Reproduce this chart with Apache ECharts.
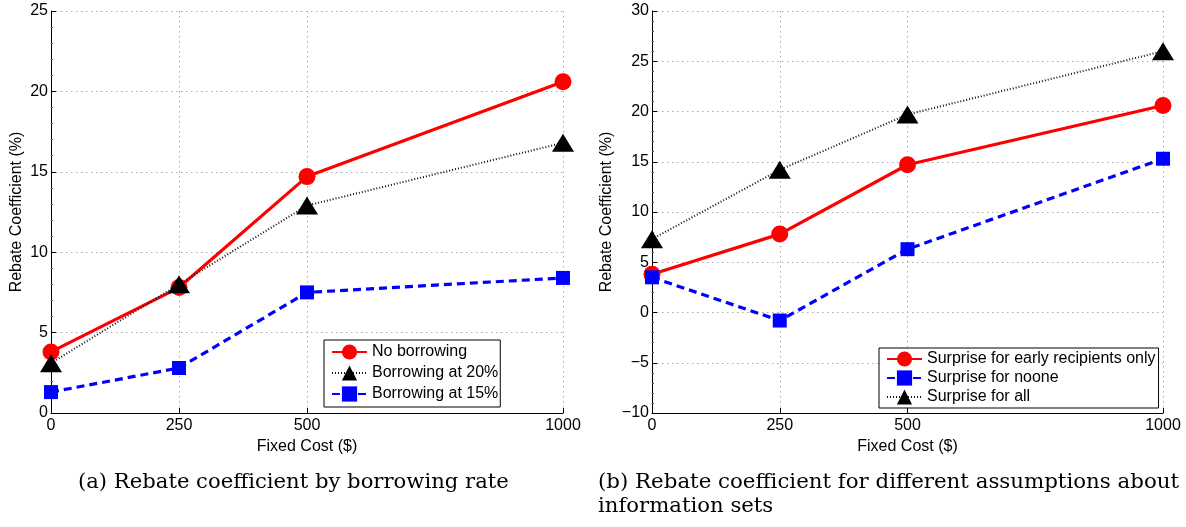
<!DOCTYPE html>
<html>
<head>
<meta charset="utf-8">
<script src="https://cdn.jsdelivr.net/npm/echarts@6/dist/echarts.min.js"></script>
<style>
html,body{margin:0;padding:0;background:#fff;}
#chart{width:1186px;height:527px;}
</style>
</head>
<body>
<div id="chart"></div>
<script>
// ---- data ----
const fixedCosts = [0, 250, 500, 1000];
const xTickValues = [0, 250, 500, 1000];

// panel (a)
const noBorrowing = [3.8, 7.8, 14.7, 20.6];
const borrowing20 = [3.1, 8.0, 12.9, 16.8];
const borrowing15 = [1.3, 2.8, 7.5, 8.4];

// panel (b)
const surpriseEarly = [3.8, 7.8, 14.7, 20.6];
const surpriseNoone = [3.5, -0.8, 6.3, 15.3];
const surpriseAll = [7.3, 14.2, 19.7, 26.0];

const xName = 'Fixed Cost ($)';
const yName = 'Rebate Coefficient (%)';
const captionA = '(a) Rebate coefficient by borrowing rate';
const captionB1 = '(b) Rebate coefficient for different assumptions about';
const captionB2 = 'information sets';

// ---- helpers ----
const pairs = (ys) => fixedCosts.map((x, i) => [x, ys[i]]);
const FONT = "'Liberation Sans', Arial, sans-serif";
const SERIF = "'DejaVu Serif', serif";
const gridLine = { show: true, lineStyle: { color: '#aaa', width: 1, type: [1.5, 3.5] } };

function xAxis(gi) {
  return {
    type: 'value', gridIndex: gi, min: 0, max: 1000,
    name: xName, nameLocation: 'middle', nameGap: 22,
    nameTextStyle: { fontFamily: FONT, fontSize: 16, color: '#000' },
    axisLine: { show: true, onZero: false, lineStyle: { color: '#000', width: 1 } },
    axisTick: { show: true, inside: true, length: 5, customValues: xTickValues, lineStyle: { color: '#000' } },
    axisLabel: { customValues: xTickValues, fontFamily: FONT, fontSize: 16, color: '#000', margin: 5,
      formatter: (v) => String(v) },
    splitLine: gridLine
  };
}
function yAxis(gi, min, max, gap) {
  return {
    type: 'value', gridIndex: gi, min: min, max: max, interval: 5,
    name: yName, nameLocation: 'middle', nameGap: gap,
    nameTextStyle: { fontFamily: FONT, fontSize: 16, color: '#000' },
    axisLine: { show: true, onZero: false, lineStyle: { color: '#000', width: 1 } },
    axisTick: { show: true, inside: true, length: 5, lineStyle: { color: '#000' } },
    minorTick: { show: true, splitNumber: 5, length: 2, lineStyle: { color: '#555' } },
    axisLabel: { fontFamily: FONT, fontSize: 16, color: '#000', margin: 3,
      formatter: (v) => String(v).replace('-', '\u2212') },
    splitLine: gridLine
  };
}

const redStyle = { type: 'line', symbol: 'circle', symbolSize: 17,
  itemStyle: { color: '#ff0000' }, lineStyle: { color: '#ff0000', width: 3.2, type: 'solid' } };
const blackStyle = { type: 'line', symbol: 'triangle', symbolSize: [22, 18],
  itemStyle: { color: '#000' }, lineStyle: { color: '#111', width: 2, type: [1, 2] } };
const blueStyle = { type: 'line', symbol: 'rect', symbolSize: 14,
  itemStyle: { color: '#0000ff' }, lineStyle: { color: '#0000ff', width: 3.2, type: [8, 5] } };

function series(base, name, gi, ys, z) {
  return Object.assign({}, base, { name: name, xAxisIndex: gi, yAxisIndex: gi,
    data: pairs(ys), z: z, animation: false });
}

const legendCommon = {
  orient: 'vertical', itemWidth: 35, itemHeight: 19,
  borderColor: '#000', borderWidth: 1, backgroundColor: '#fff',
  textStyle: { fontFamily: FONT, fontSize: 16, color: '#000' },
  selectedMode: false
};

const option = {
  backgroundColor: '#fff',
  animation: false,
  grid: [
    { left: 51, right: 623, top: 11, bottom: 114 },
    { left: 652, right: 23, top: 11, bottom: 114 }
  ],
  xAxis: [xAxis(0), xAxis(1)],
  yAxis: [yAxis(0, 0, 25, 26), yAxis(1, -10, 30, 37)],
  legend: [
    Object.assign({}, legendCommon, { left: 324, top: 340, itemGap: 5, padding: [4, 2, 5, 7],
      data: ['No borrowing', 'Borrowing at 20%', 'Borrowing at 15%'] }),
    Object.assign({}, legendCommon, { left: 879, top: 348, itemGap: 3, padding: [3, 3, 3, 7],
      data: ['Surprise for early recipients only', 'Surprise for noone', 'Surprise for all'] })
  ],
  series: [
    series(redStyle, 'No borrowing', 0, noBorrowing, 2),
    series(blackStyle, 'Borrowing at 20%', 0, borrowing20, 3),
    series(blueStyle, 'Borrowing at 15%', 0, borrowing15, 4),
    series(redStyle, 'Surprise for early recipients only', 1, surpriseEarly, 2),
    series(blueStyle, 'Surprise for noone', 1, surpriseNoone, 3),
    series(blackStyle, 'Surprise for all', 1, surpriseAll, 4)
  ],
  graphic: [
    { type: 'text', x: 78, y: 473, scaleX: 1.057, style: { text: captionA, fontFamily: SERIF, fontSize: 20, fill: '#000' } },
    { type: 'text', x: 598, y: 473, scaleX: 1.066, style: { text: captionB1, fontFamily: SERIF, fontSize: 20, fill: '#000' } },
    { type: 'text', x: 598, y: 497, scaleX: 1.06, style: { text: captionB2, fontFamily: SERIF, fontSize: 20, fill: '#000' } }
  ]
};

const chart = echarts.init(document.getElementById('chart'), null, { renderer: 'canvas' });
chart.setOption(option);
</script>
</body>
</html>
